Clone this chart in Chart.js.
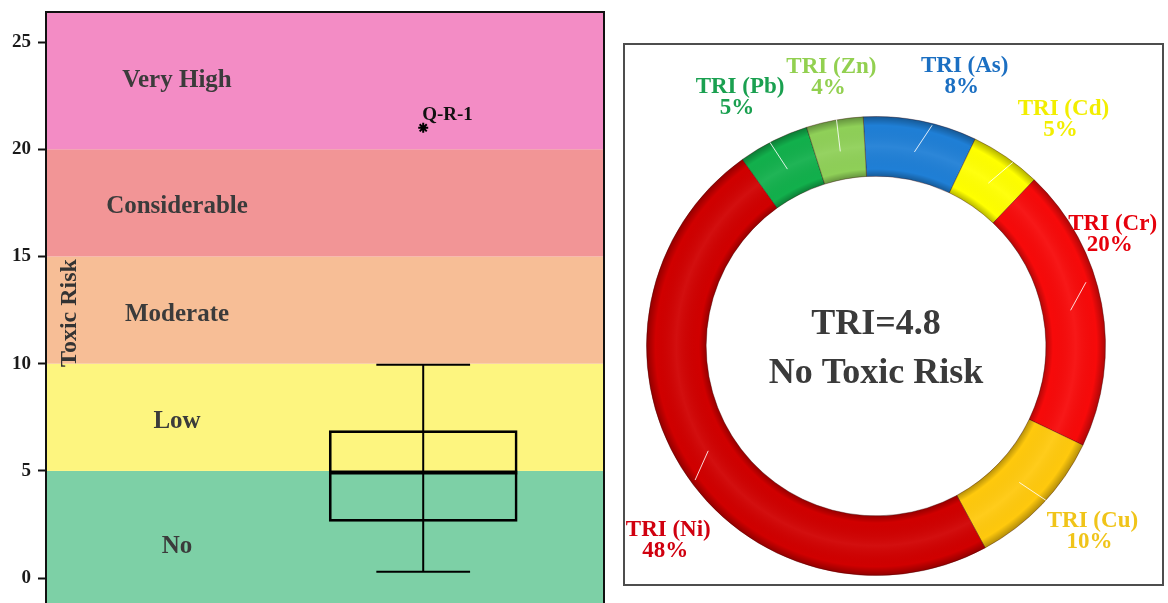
<!DOCTYPE html>
<html>
<head>
<meta charset="utf-8">
<script src="https://cdn.jsdelivr.net/npm/chart.js@4.4.1/dist/chart.umd.min.js"></script>
<style>
  html, body { margin: 0; padding: 0; background: #fff; }
  body { width: 1168px; height: 603px; position: relative; overflow: hidden; }
  #left { position: absolute; left: 0; top: 0; }
  #pieBox { position: absolute; left: 623px; top: 43px; width: 541px; height: 543px;
            border: 2px solid #4d4d4d; box-sizing: border-box; background: #fff; }
  #right { display: block; }
</style>
</head>
<body>
<canvas id="left" width="606" height="603"></canvas>
<div id="pieBox"><canvas id="right" width="537" height="539"></canvas></div>
<script>
// ---- left panel: risk bands + box plot ----
const bandNames = ['No', 'Low', 'Moderate', 'Considerable', 'Very High'];
const bandLower = [-5, 5, 10, 15, 20];
const bandUpper = [5, 10, 15, 20, 30];
const bandColors = ['#7dd0a6', '#fdf57f', '#f7be96', '#f29596', '#f38cc5'];
const yTicks = [0, 5, 10, 15, 20, 25];

const boxMin = 0.3;
const boxQ1 = 2.65;
const boxMedian = 4.93;
const boxQ3 = 6.88;
const boxMax = 9.95;
const outlierValue = 21.0;
const outlierLabel = 'Q-R-1';

// ---- right panel: TRI contributions ----
const metals = ['TRI (As)', 'TRI (Cd)', 'TRI (Cr)', 'TRI (Cu)', 'TRI (Ni)', 'TRI (Pb)', 'TRI (Zn)'];
const shares = [8, 5, 20, 10, 48, 5, 4];
const triValue = 4.8;
const triClass = 'No Toxic Risk';

const sliceColors = ['#1f7fd6', '#ffff00', '#f70a0a', '#ffc90d', '#d00000', '#12b04c', '#8fd058'];
const labelColors = ['#1b6fc2', '#f2ee00', '#e6000b', '#f0c419', '#d0000f', '#1aa050', '#92d050'];
// label angle nudge (deg) and distance from centre (px)
const labelPlace = [[7, 284], [5, 294], [-15, 262], [-3, 285], [-11, 284], [-2, 284], [1, 273]];

const SERIF = '"Liberation Serif", "Times New Roman", serif';
const boxX = 0.676;     // box centre on the hidden 0..1 x axis
const boxHalf = 0.1685; // half box width in x units
const capHalf = 0.084;

const bandsPlugin = {
  id: 'bands',
  beforeDatasetsDraw(chart) {
    const { ctx, chartArea: a, scales: { y } } = chart;
    ctx.save();
    ctx.beginPath();
    ctx.rect(a.left, a.top, a.right - a.left, a.bottom - a.top);
    ctx.clip();
    bandNames.forEach((name, i) => {
      const top = Math.max(y.getPixelForValue(bandUpper[i]), a.top);
      const bot = Math.min(y.getPixelForValue(bandLower[i]), a.bottom);
      ctx.fillStyle = bandColors[i];
      ctx.fillRect(a.left, top, a.right - a.left, bot - top);
      ctx.fillStyle = '#3b3b3b';
      ctx.font = 'bold 25px ' + SERIF;
      ctx.textAlign = 'center';
      ctx.textBaseline = 'middle';
      let mid = (top + bot) / 2;
      if (i === 0) mid = bot - 56;
      else if (i < 4) mid += 4;
      ctx.fillText(name, 177, mid);
    });
    ctx.restore();
  },
  afterDraw(chart) {
    const { ctx, chartArea: a } = chart;
    ctx.save();
    ctx.strokeStyle = '#111';
    ctx.lineWidth = 2;
    ctx.strokeRect(a.left, a.top, a.right - a.left, a.bottom - a.top + 4);
    // axis title sits inside the plot
    ctx.translate(70, 313);
    ctx.rotate(-Math.PI / 2);
    ctx.fillStyle = '#333';
    ctx.font = 'bold 24px ' + SERIF;
    ctx.textAlign = 'center';
    ctx.textBaseline = 'middle';
    ctx.fillText('Toxic Risk', 0, 0);
    ctx.restore();
    // outlier label
    const pt = chart.getDatasetMeta(5).data[0];
    ctx.save();
    ctx.fillStyle = '#111';
    ctx.font = 'bold 19px ' + SERIF;
    ctx.textAlign = 'left';
    ctx.textBaseline = 'alphabetic';
    ctx.fillText(outlierLabel, pt.x - 1, pt.y - 8);
    ctx.restore();
  }
};

const line = (pts, w) => ({
  type: 'line', data: pts, borderColor: '#000', borderWidth: w,
  pointRadius: 0, fill: false, order: 0
});

new Chart(document.getElementById('left'), {
  type: 'bar',
  data: {
    datasets: [
      { type: 'bar', data: [{ x: boxX, y: [boxQ1, boxQ3] }], backgroundColor: 'rgba(0,0,0,0)',
        borderColor: '#000', borderWidth: 2, borderSkipped: false, barThickness: 188, order: 1 },
      line([{ x: boxX, y: boxMin }, { x: boxX, y: boxMax }], 2),
      line([{ x: boxX - capHalf, y: boxMin }, { x: boxX + capHalf, y: boxMin }], 2),
      line([{ x: boxX - capHalf, y: boxMax }, { x: boxX + capHalf, y: boxMax }], 2),
      line([{ x: boxX - boxHalf, y: boxMedian }, { x: boxX + boxHalf, y: boxMedian }], 4),
      { type: 'scatter', data: [{ x: boxX, y: outlierValue }], pointStyle: 'star',
        pointRadius: 5, borderColor: '#000', borderWidth: 2, order: 0 }
    ]
  },
  options: {
    responsive: false,
    animation: false,
    devicePixelRatio: 1,
    layout: { autoPadding: false, padding: { top: 12, right: 2, bottom: 0, left: 0 } },
    plugins: { legend: { display: false }, tooltip: { enabled: false } },
    scales: {
      x: { type: 'linear', min: 0, max: 1, offset: false, display: false },
      y: {
        min: -1.16, max: 26.4,
        afterBuildTicks: s => { s.ticks = yTicks.map(v => ({ value: v })); },
        afterFit: s => { s.width = 46; s.paddingTop = 0; s.paddingBottom = 0; },
        border: { display: false },
        grid: { drawOnChartArea: false, tickLength: 8, tickColor: '#111', tickWidth: 2 },
        ticks: { color: '#1a1a1a', padding: 7, font: { family: SERIF, size: 19, weight: 'bold' } }
      }
    }
  },
  plugins: [bandsPlugin]
});

// ---- doughnut ----
const ringPlugin = {
  id: 'ring',
  afterDatasetsDraw(chart) {
    const { ctx } = chart;
    const arcs = chart.getDatasetMeta(0).data;
    const cx = arcs[0].x, cy = arcs[0].y;
    const ro = arcs[0].outerRadius, ri = arcs[0].innerRadius;
    // bevel shading
    ctx.save();
    const g = ctx.createRadialGradient(cx, cy, ri, cx, cy, ro);
    g.addColorStop(0, 'rgba(0,0,0,0.28)');
    g.addColorStop(0.12, 'rgba(0,0,0,0)');
    g.addColorStop(0.5, 'rgba(255,255,255,0.06)');
    g.addColorStop(0.85, 'rgba(0,0,0,0)');
    g.addColorStop(1, 'rgba(0,0,0,0.3)');
    ctx.beginPath();
    ctx.arc(cx, cy, ro, 0, Math.PI * 2);
    ctx.arc(cx, cy, ri, 0, Math.PI * 2, true);
    ctx.fillStyle = g;
    ctx.fill();
    ctx.restore();

    ctx.save();
    ctx.textAlign = 'center';
    ctx.textBaseline = 'middle';
    arcs.forEach((arc, i) => {
      const mid = (arc.startAngle + arc.endAngle) / 2;
      const ang = mid + labelPlace[i][0] * Math.PI / 180;
      const lx = cx + Math.cos(ang) * labelPlace[i][1];
      const ly = cy + Math.sin(ang) * labelPlace[i][1];
      // leader line inside the ring
      const sx = cx + Math.cos(mid) * (ri + 28), sy = cy + Math.sin(mid) * (ri + 28);
      const dx = lx - sx, dy = ly - sy, d = Math.hypot(dx, dy);
      ctx.strokeStyle = 'rgba(255,255,255,0.85)';
      ctx.lineWidth = 1;
      ctx.beginPath();
      ctx.moveTo(sx, sy);
      ctx.lineTo(sx + dx / d * 32, sy + dy / d * 32);
      ctx.stroke();
      ctx.fillStyle = labelColors[i];
      ctx.font = 'bold 23px ' + SERIF;
      ctx.fillText(metals[i], lx, ly - 10);
      ctx.fillText(shares[i] + '%', lx - 3, ly + 11);
    });
    ctx.fillStyle = '#3a3a3a';
    ctx.font = 'bold 36px ' + SERIF;
    ctx.fillText('TRI=' + triValue, cx, cy - 21);
    ctx.fillText(triClass, cx, cy + 28);
    ctx.restore();
  }
};

new Chart(document.getElementById('right'), {
  type: 'doughnut',
  data: {
    labels: metals,
    datasets: [{
      data: shares,
      backgroundColor: sliceColors,
      borderColor: 'rgba(60,0,0,0.35)',
      borderWidth: 1,
      hoverOffset: 0
    }]
  },
  options: {
    responsive: false,
    animation: false,
    devicePixelRatio: 1,
    cutout: '74%',
    rotation: -3.2,
    layout: { padding: { left: 21, top: 71, right: 56, bottom: 8 } },
    plugins: { legend: { display: false }, tooltip: { enabled: false } }
  },
  plugins: [ringPlugin]
});
</script>
</body>
</html>
